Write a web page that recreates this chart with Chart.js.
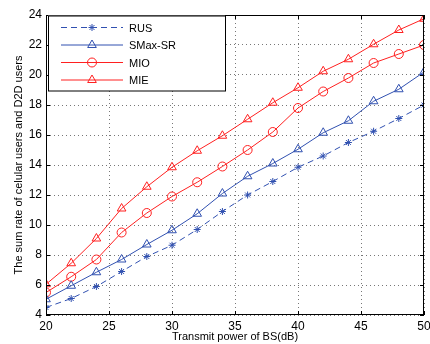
<!DOCTYPE html>
<html>
<head>
<meta charset="utf-8">
<script src="https://cdn.jsdelivr.net/npm/chart.js@4"></script>
<style>
  html, body { margin: 0; padding: 0; background: #fff; }
  #wrap { width: 430px; height: 344px; }
</style>
</head>
<body>
<div id="wrap"><canvas id="chart" width="430" height="344"></canvas></div>
<script>
// transmit power (dB)
var power = [20, 22, 24, 26, 28, 30, 32, 34, 36, 38, 40, 42, 44, 46, 48, 50];
var rus  = [4.5, 5.1, 5.9, 6.9, 7.9, 8.65, 9.7, 10.9, 12.0, 12.9, 13.85, 14.6, 15.5, 16.25, 17.1, 18.0];
var smax = [5.05, 5.95, 6.85, 7.7, 8.7, 9.65, 10.75, 12.1, 13.25, 14.1, 15.05, 16.15, 16.95, 18.25, 19.05, 20.2];
var mio  = [5.5, 6.55, 7.7, 9.5, 10.8, 11.9, 12.85, 13.9, 15.0, 16.2, 17.8, 18.9, 19.8, 20.8, 21.4, 22.0];
var mie  = [6.05, 7.45, 9.1, 11.1, 12.55, 13.85, 14.95, 15.95, 17.05, 18.15, 19.15, 20.25, 21.05, 22.05, 23.0, 23.75];
var seriesNames = ['RUS', 'SMax-SR', 'MIO', 'MIE'];

var blue = '#3050b0';
var red = '#ff2020';
var font = 'Liberation Sans, Arial, sans-serif';

function pts(vals) {
    return power.map(function(p, i) { return {x: p, y: vals[i]}; });
}

function makeSet(label, vals, color, style, radius, dash) {
    return {
        label: label,
        data: pts(vals),
        borderColor: color,
        backgroundColor: 'rgba(0,0,0,0)',
        borderWidth: 1,
        borderDash: dash || [],
        pointStyle: style,
        pointRadius: radius,
        pointBorderColor: color,
        pointBackgroundColor: 'rgba(0,0,0,0)',
        pointBorderWidth: 1,
        tension: 0,
        fill: false
    };
}

var datasets = [
    makeSet(seriesNames[0], rus, blue, 'star', 3.5, [6, 4]),
    makeSet(seriesNames[1], smax, blue, 'triangle', 5),
    makeSet(seriesNames[2], mio, red, 'circle', 4.5),
    makeSet(seriesNames[3], mie, red, 'triangle', 5)
];

// frame, inward ticks and the boxed legend (MATLAB look)
var framePlugin = {
    id: 'frame',
    afterDraw: function(chart) {
        var ctx = chart.ctx;
        var a = chart.chartArea;
        var xs = chart.scales.x, ys = chart.scales.y;
        ctx.save();
        ctx.strokeStyle = '#000';
        ctx.lineWidth = 1;
        ctx.setLineDash([]);
        ctx.beginPath();
        xs.ticks.forEach(function(t) {
            var px = Math.round(xs.getPixelForValue(t.value)) + 0.5;
            ctx.moveTo(px, a.bottom); ctx.lineTo(px, a.bottom - 4);
            ctx.moveTo(px, a.top); ctx.lineTo(px, a.top + 4);
        });
        ys.ticks.forEach(function(t) {
            var py = Math.round(ys.getPixelForValue(t.value)) + 0.5;
            ctx.moveTo(a.left, py); ctx.lineTo(a.left + 4, py);
            ctx.moveTo(a.right, py); ctx.lineTo(a.right - 4, py);
        });
        ctx.stroke();
        ctx.strokeRect(Math.round(a.left) + 0.5, Math.round(a.top) + 0.5,
                       Math.round(a.right - a.left) - 1, Math.round(a.bottom - a.top) - 1);

        // legend
        var lx = a.left + 2, ly = a.top + 0.5, lw = 177, lh = 75;
        ctx.fillStyle = '#fff';
        ctx.fillRect(lx, ly, lw, lh);
        ctx.strokeRect(Math.round(lx) + 0.5, Math.round(ly), lw, lh);
        ctx.font = '11px ' + font;
        ctx.textBaseline = 'middle';
        chart.data.datasets.forEach(function(ds, i) {
            var y = ly + 12 + i * 17.5;
            ctx.strokeStyle = ds.borderColor;
            ctx.setLineDash(ds.borderDash);
            ctx.beginPath();
            ctx.moveTo(lx + 13, y); ctx.lineTo(lx + 75, y);
            ctx.stroke();
            ctx.setLineDash([]);
            ctx.fillStyle = 'rgba(0,0,0,0)';
            Chart.helpers.drawPoint(ctx, {
                pointStyle: ds.pointStyle, radius: ds.pointRadius,
                borderWidth: 1, rotation: 0
            }, lx + 44, y);
            ctx.fillStyle = '#000';
            ctx.fillText(ds.label, lx + 81, y + 1);
        });
        ctx.restore();
    }
};

window.onload = function() {
    var ctx = document.getElementById('chart').getContext('2d');
    new Chart(ctx, {
        type: 'line',
        data: { datasets: datasets },
        options: {
            responsive: false,
            animation: false,
            layout: { padding: { left: 12, right: 3, top: 15, bottom: 0 } },
            plugins: { legend: { display: false }, tooltip: { enabled: false } },
            scales: {
                x: {
                    type: 'linear', min: 20, max: 50,
                    ticks: { stepSize: 5, color: '#000', font: { family: font, size: 12 }, padding: 4, maxRotation: 0 },
                    grid: { color: '#777', lineWidth: 1, drawTicks: false },
                    border: { display: false, dash: [1, 3] },
                    title: { display: true, text: 'Transmit power of BS(dB)', color: '#000',
                             font: { family: font, size: 11 }, padding: { top: 1, bottom: 0 } },
                    afterFit: function(s) { s.height = 29; s.paddingLeft = 0; s.paddingRight = 0; }
                },
                y: {
                    min: 4, max: 24,
                    ticks: { stepSize: 2, color: '#000', font: { family: font, size: 12 }, padding: 4 },
                    grid: { color: '#777', lineWidth: 1, drawTicks: false },
                    border: { display: false, dash: [1, 3] },
                    title: { display: true, text: 'The sum rate of celular users and D2D users', color: '#000',
                             font: { family: font, size: 11 }, padding: { top: 0, bottom: 2 } },
                    afterFit: function(s) { s.width = 34; s.paddingTop = 0; s.paddingBottom = 0; }
                }
            }
        },
        plugins: [framePlugin]
    });
};
</script>
</body>
</html>
